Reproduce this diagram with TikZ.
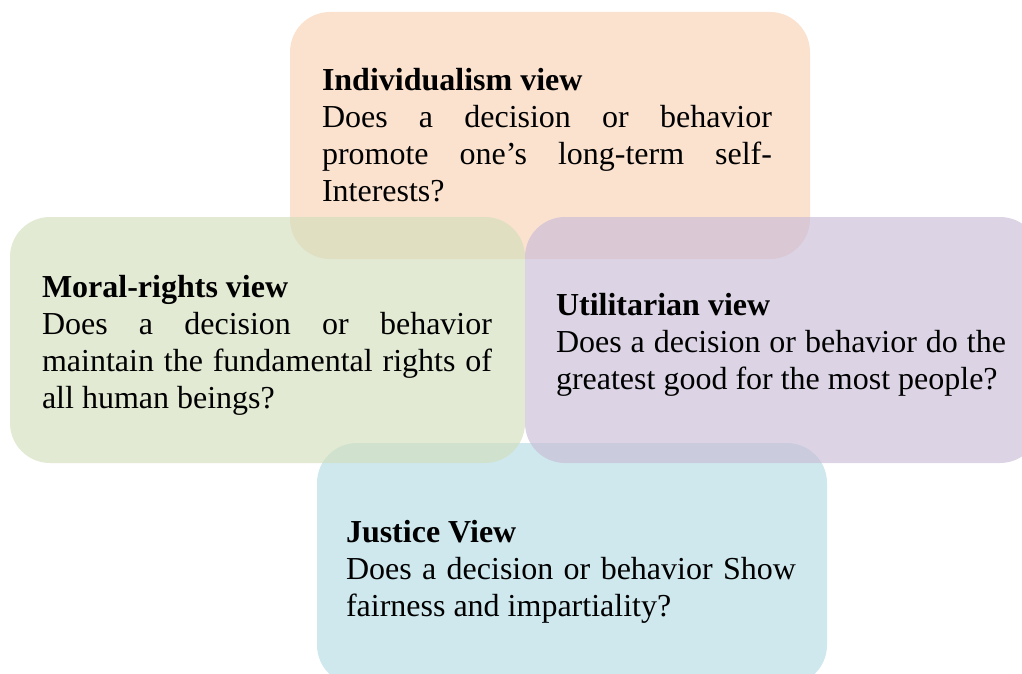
\documentclass[tikz,border=0pt]{standalone}
\usepackage{fontspec}
\setmainfont{Liberation Serif}

\definecolor{peach}{RGB}{249,210,181}
\definecolor{sage}{RGB}{210,223,189}
\definecolor{lilac}{RGB}{201,189,215}
\definecolor{skyblue}{RGB}{180,220,229}

\tikzset{
  viewbox/.style={rounded corners=30pt, fill opacity=0.65, draw=none},
  viewtext/.style={anchor=base west, inner sep=0pt, outer sep=0pt}
}

% one paragraph per view: bold heading, then the question, justified
\newcommand{\viewpara}[2]{%
  \parbox[t]{337.5pt}{\fontsize{24pt}{27.75pt}\selectfont
    \tolerance=10000\hbadness=10000
    \textbf{#1}\\#2}}

\begin{document}
\begin{tikzpicture}[x=0.75pt, y=-0.75pt]
  \useasboundingbox (0,0) rectangle (1022,674);
  \clip (0,0) rectangle (1022,674);

  % lower layer
  \fill[viewbox, peach]   (290,12)  rectangle (810,259);
  \fill[viewbox, skyblue] (317,443) rectangle (827,685);
  % upper layer
  \fill[viewbox, sage]    (10,217)  rectangle (525,463);
  \fill[viewbox, lilac]   (525,217) rectangle (1040,463);

  \node[viewtext] (indiv) at (322,91) {\viewpara{Individualism view}%
    {Does a decision or behavior\linebreak
     promote one’s long-term self-\linebreak
     Interests?}};

  \node[viewtext] (moral) at (42,297) {\viewpara{Moral-rights view}%
    {Does a decision or behavior\linebreak
     maintain the fundamental rights of\linebreak
     all human beings?}};

  \node[viewtext] (util) at (556,315) {\viewpara{Utilitarian view}%
    {Does a decision or behavior do the\linebreak
     greatest good for the most people?}};

  \node[viewtext] (justice) at (346,542) {\viewpara{Justice View}%
    {Does a decision or behavior Show\linebreak
     fairness and impartiality?}};
\end{tikzpicture}
\end{document}
